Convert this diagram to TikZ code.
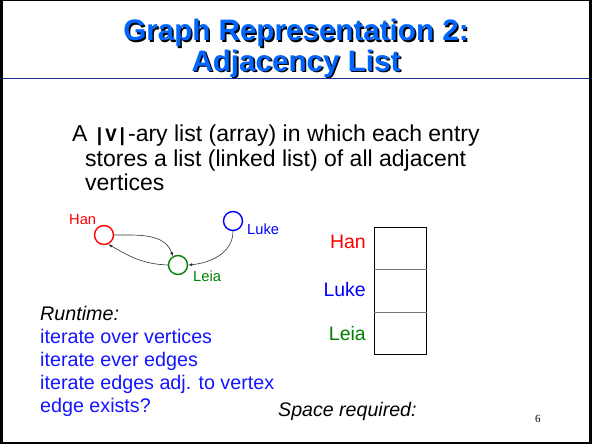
\documentclass[tikz,border=0pt]{standalone}
\usepackage{fontspec}
\setmainfont{Liberation Sans}
\newfontfamily\codefont{Liberation Mono}
\newfontfamily\numfont{Liberation Serif}
\usetikzlibrary{arrows.meta}
\newcommand\setfs[1]{\fontsize{#1}{#1}\selectfont}
% text with a black drop shadow behind it
\newcommand\shadowed[1]{\rlap{\hspace{1.6pt}\raisebox{-1.6pt}{\color{black}#1}}#1}
\definecolor{titleblue}{RGB}{0,102,255}
\definecolor{rulecol}{RGB}{20,50,140}
\definecolor{hanred}{RGB}{255,0,0}
\definecolor{lukeblue}{RGB}{0,0,255}
\definecolor{leiagreen}{RGB}{0,128,0}
\definecolor{itemblue}{RGB}{20,20,255}
\tikzset{
  txt/.style={inner sep=0pt, anchor=base west},
  vertex/.style={circle, draw, line width=1.4pt, minimum size=19pt, inner sep=0pt},
  glabel/.style={inner sep=0pt, anchor=base west, font=\setfs{14.7}},
  alabel/.style={inner sep=0pt, anchor=base east, font=\setfs{19.5}},
  edge/.style={line width=0.6pt, black!80, -{Latex[length=4pt,width=3.2pt]}},
  cell/.style={draw=black, line width=0.9pt, minimum width=52pt, minimum height=42.5pt, inner sep=0pt, anchor=north west},
  titletxt/.style={inner sep=0pt, anchor=base, text=titleblue, font=\setfs{29.6}\bfseries}
}
\begin{document}
\begin{tikzpicture}[x=1pt,y=-1pt]
\useasboundingbox (0,0) rectangle (592,444);
% slide frame
\fill[black] (0,0) rectangle (592,444);
\fill[white] (2.5,1.5) rectangle (588.5,441.5);
% title
\node[titletxt] (t1) at (296,41) {\shadowed{Graph Representation 2:}};
\node[titletxt] (t2) at (296,71) {\shadowed{Adjacency List}};
\draw[rulecol, line width=1.5pt] (2.5,78.5) -- (588.5,78.5);
% body text
\node[txt, font=\setfs{23}] (l1) at (72,141) {A {\codefont\bfseries\setfs{19}|V|}-ary list (array) in which each entry};
\node[txt, font=\setfs{23}] (l2) at (85,166) {stores a list (linked list) of all adjacent};
\node[txt, font=\setfs{23}] (l3) at (85,190) {vertices};
% graph
\node[vertex, draw=hanred] (han) at (104,235) {};
\node[vertex, draw=leiagreen] (leia) at (178,265) {};
\node[vertex, draw=lukeblue] (luke) at (233,221) {};
\node[glabel, text=hanred] (hanl) at (69,224) {Han};
\node[glabel, text=lukeblue] (lukel) at (247,234) {Luke};
\node[glabel, text=leiagreen] (leial) at (193,281) {Leia};
\draw[edge] (han.east) to[out=0, in=110] (leia.120);
\draw[edge] (leia.west) to[out=178, in=-30] (han.-65);
\draw[edge] (luke.south) to[out=-90, in=5] (leia.east);
% adjacency array
\node[cell] (c1) at (374,226.5) {};
\node[cell] (c2) at (374,269) {};
\node[cell] (c3) at (374,311.5) {};
\draw[black!55, line width=1pt] (c1.south west) -- (c1.south east);
\draw[black!55, line width=1pt] (c2.south west) -- (c2.south east);
\node[alabel, text=hanred] (a1) at (366,248) {Han};
\node[alabel, text=lukeblue] (a2) at (366,296) {Luke};
\node[alabel, text=leiagreen] (a3) at (366,340) {Leia};
% runtime notes
\node[txt, font=\setfs{19.7}\itshape] (rt) at (40,320) {Runtime:};
\node[txt, font=\setfs{19.7}, text=itemblue] (r1) at (40,343) {iterate over vertices};
\node[txt, font=\setfs{19.7}, text=itemblue] (r2) at (40,366) {iterate ever edges};
\node[txt, font=\setfs{19.7}, text=itemblue] (r3) at (40,389) {iterate edges adj. to vertex};
\node[txt, font=\setfs{19.7}, text=itemblue] (r4) at (40,412) {edge exists?};
\node[txt, font=\setfs{19.6}\itshape] (sp) at (278,416) {Space required:};
\node[txt, font=\numfont\setfs{11}] (pg) at (535,422) {6};
\end{tikzpicture}
\end{document}
